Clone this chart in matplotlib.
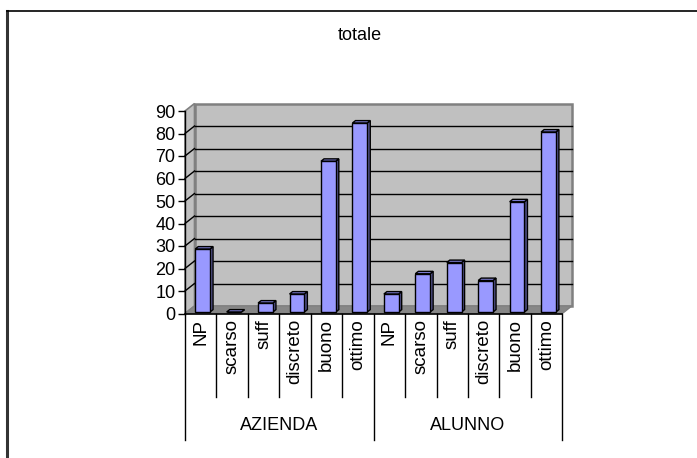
import matplotlib
matplotlib.use("Agg")
import matplotlib.pyplot as plt
from matplotlib.patches import Polygon
from matplotlib.lines import Line2D

plt.rcParams['font.family'] = ['Liberation Sans', 'DejaVu Sans']

# dati
titolo = "totale"
gruppi = ["AZIENDA", "ALUNNO"]
categorie = ["NP", "scarso", "suff", "discreto", "buono", "ottimo"]
azienda = [28, 0, 4, 8, 67, 84]
alunno = [8, 17, 22, 14, 49, 80]
yticks = list(range(0, 100, 10))

valori = azienda + alunno
etichette = categorie + categorie
n = len(valori)

W, H = 697, 458
fig = plt.figure(figsize=(W / 100, H / 100), dpi=100)

# cornice esterna (solo lato sinistro e superiore visibili)
fig.add_artist(Line2D([6.5 / W, 6.5 / W], [0, 1 - 11 / H], color='#333333', lw=2.2))
fig.add_artist(Line2D([6.5 / W, 1], [1 - 11 / H, 1 - 11 / H], color='black', lw=1.2))

fig.text(360 / W, 1 - 36 / H, titolo, ha='center', va='center', fontsize=13)

# area del grafico in pixel
x0, x1 = 185, 562.3
y0, y90 = 313.5, 111
ax = fig.add_axes([x0 / W, (H - y0) / H, (x1 - x0) / W, (y0 - y90) / H])
ax.set_xlim(0, n)
ax.set_ylim(0, 90)
ax.set_facecolor('none')

# profondità pseudo-3D (in unità dati)
dx = 9.5 / ((x1 - x0) / n)
dy = 7.5 / ((y0 - y90) / 90)
ymax = yticks[-1]

parete = '#c0c0c0'
bordo = '#808080'
# parete di fondo
ax.add_patch(Polygon([(dx, dy), (n + dx, dy), (n + dx, ymax + dy), (dx, ymax + dy)],
                     closed=True, fc=parete, ec=bordo, lw=1.8, zorder=0, clip_on=False))
# parete laterale
ax.add_patch(Polygon([(0, 0), (dx, dy), (dx, ymax + dy), (0, ymax)],
                     closed=True, fc=parete, ec=bordo, lw=1.2, zorder=0, clip_on=False))
# pavimento
ax.add_patch(Polygon([(0, 0), (n, 0), (n + dx, dy), (dx, dy)],
                     closed=True, fc='#878787', ec=bordo, lw=1, zorder=0.5, clip_on=False))

for k in yticks[1:-1]:
    ax.plot([dx, n + dx], [k + dy, k + dy], color='black', lw=1, zorder=0.6, clip_on=False)
    ax.plot([0, dx], [k, k + dy], color='black', lw=1, zorder=0.6, clip_on=False)

# barre
larg = 0.47
f0 = 0.2
prof = 0.32
off_x, off_y = f0 * dx, f0 * dy
bdx, bdy = prof * dx, prof * dy
xs = [i + 0.5 + off_x for i in range(n)]
ax.bar(xs, valori, width=larg, bottom=off_y, color='#9999ff', edgecolor='black',
       lw=1, zorder=3, clip_on=False)
for xc, v in zip(xs, valori):
    xl, xr = xc - larg / 2, xc + larg / 2
    b, t = off_y, off_y + v
    ax.add_patch(Polygon([(xr, b), (xr + bdx, b + bdy), (xr + bdx, t + bdy), (xr, t)],
                         closed=True, fc='#55558f', ec='black', lw=1, zorder=2.9, clip_on=False))
    ax.add_patch(Polygon([(xl, t), (xr, t), (xr + bdx, t + bdy), (xl + bdx, t + bdy)],
                         closed=True, fc='#7f7fd6', ec='black', lw=1, zorder=2.9, clip_on=False))

# assi
for s in ['top', 'right']:
    ax.spines[s].set_visible(False)
ax.spines['left'].set_linewidth(1)
ax.spines['bottom'].set_linewidth(1.2)
ax.set_yticks(yticks)
ax.tick_params(axis='y', length=5, width=1, labelsize=13, pad=2)
ax.set_xticks([i + 0.5 for i in range(n)], etichette, rotation=90)
ax.tick_params(axis='x', length=0, labelsize=13.5, pad=4)

# tabella delle categorie
px = (y0 - y90) / 90
y_corto = -(397 - y0) / px
y_lungo = -(440 - y0) / px
for i in range(n + 1):
    lungo = i % len(categorie) == 0
    ax.plot([i, i], [0, y_lungo if lungo else y_corto], color='black', lw=1,
            clip_on=False, zorder=1)
for g, nome in enumerate(gruppi):
    xc = g * len(categorie) + len(categorie) / 2
    ax.text(xc, -(425 - y0) / px, nome, ha='center', va='center', fontsize=13)

fig.savefig("out.png", dpi=100)
